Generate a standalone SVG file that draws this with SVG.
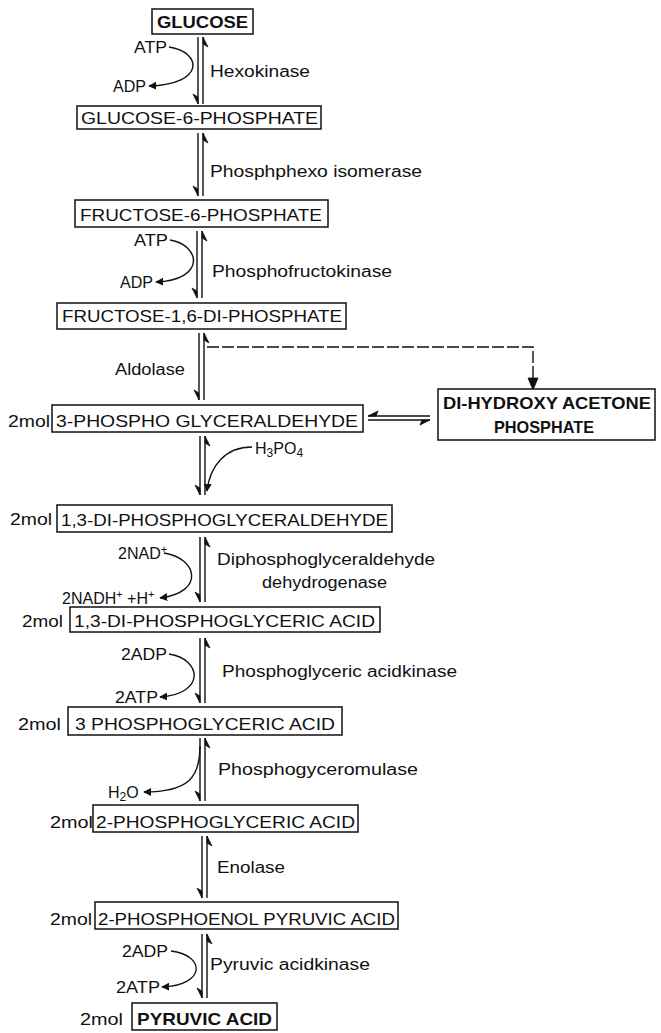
<svg xmlns="http://www.w3.org/2000/svg" width="661" height="1033" viewBox="0 0 661 1033">
<style>
text{font-family:"Liberation Sans",Arial,sans-serif;fill:#111}
.bx{fill:#fff;stroke:#111;stroke-width:1.5}
.bl{font-size:17px}
.b{font-weight:bold}
.en{font-size:16px}
.sm{font-size:16px}
.ln{fill:none;stroke:#111;stroke-width:1.4}
.hd{fill:#111;stroke:#111;stroke-width:0.8}
.cv{fill:none;stroke:#111;stroke-width:1.4;marker-end:url(#ah)}
.ds{fill:none;stroke:#111;stroke-width:1.4;stroke-dasharray:12 3}
</style>
<defs>
<marker id="ah" viewBox="0 0 10 10" refX="9" refY="5" markerWidth="8" markerHeight="8" markerUnits="userSpaceOnUse" orient="auto"><path d="M0,0 L10,5 L0,10 Z" fill="#111"/></marker>
</defs>
<rect width="661" height="1033" fill="#fff"/>

<g id="connectors">
<!-- glucose -> G6P -->
<path class="ln" d="M198,37 V104 M203,37 V104"/>
<path class="hd" d="M198,104 L193,94 L198,97 Z M203,37 L208,47 L203,44 Z"/>
<path class="cv" d="M169,47 C202,52 206,84 149,86"/>
<!-- G6P -> F6P -->
<path class="ln" d="M198,133 V196 M203,133 V196"/>
<path class="hd" d="M198,196 L193,186 L198,189 Z M203,133 L208,143 L203,140 Z"/>
<!-- F6P -> F16DP -->
<path class="ln" d="M197,231 V298 M202,231 V298"/>
<path class="hd" d="M197,298 L192,288 L197,291 Z M202,231 L207,241 L202,238 Z"/>
<path class="cv" d="M170,240 C201,245 206,280 156,282"/>
<!-- F16DP -> 3PGAld -->
<path class="ln" d="M199,333 V400 M204,333 V400"/>
<path class="hd" d="M199,400 L194,390 L199,393 Z M204,333 L209,343 L204,340 Z"/>
<path class="ds" d="M207,347 H533 V388"/>
<path class="hd" d="M533,390 L528,378 L538,378 Z"/>
<!-- 3PGAld <-> DHAP -->
<path class="ln" d="M368,416 H430 M368,420 H430"/>
<path class="hd" d="M368,416 L378,411 L376,416 Z M430,420 L420,425 L422,420 Z"/>
<!-- 3PGAld -> 1,3-DPGald -->
<path class="ln" d="M200,436 V495 M205,436 V495"/>
<path class="hd" d="M200,495 L195,485 L200,488 Z M205,436 L210,446 L205,443 Z"/>
<path class="cv" d="M252,447 C226,447 210,465 207,491"/>
<!-- 1,3-DPGald -> 1,3-DPGA -->
<path class="ln" d="M200,537 V602 M205,537 V602"/>
<path class="hd" d="M200,602 L195,592 L200,595 Z M205,537 L210,547 L205,544 Z"/>
<path class="cv" d="M164,553 C197,558 206,592 160,598"/>
<!-- 1,3-DPGA -> 3PGA -->
<path class="ln" d="M200,638 V703 M205,638 V703"/>
<path class="hd" d="M200,703 L195,693 L200,696 Z M205,638 L210,648 L205,645 Z"/>
<path class="cv" d="M169,654 C202,659 206,694 160,697"/>
<!-- 3PGA -> 2PGA -->
<path class="ln" d="M200,738 V801 M205,738 V801"/>
<path class="hd" d="M200,801 L195,791 L200,794 Z M205,738 L210,748 L205,745 Z"/>
<path class="cv" d="M200,746 C200,778 188,792 144,792"/>
<!-- 2PGA -> PEP -->
<path class="ln" d="M202,836 V898 M207,836 V898"/>
<path class="hd" d="M202,898 L197,888 L202,891 Z M207,836 L212,846 L207,843 Z"/>
<!-- PEP -> Pyruvic -->
<path class="ln" d="M202,934 V998 M207,934 V998"/>
<path class="hd" d="M202,998 L197,988 L202,991 Z M207,934 L212,944 L207,941 Z"/>
<path class="cv" d="M171,951 C205,955 207,985 162,987"/>
</g>

<g id="glucose"><rect class="bx" x="152" y="9" width="101" height="25"/><text class="bl b" x="157" y="28" textLength="91" lengthAdjust="spacingAndGlyphs">GLUCOSE</text></g>
<g id="g6p"><rect class="bx" x="77" y="106" width="244" height="23"/><text class="bl" x="81" y="124" textLength="237" lengthAdjust="spacingAndGlyphs">GLUCOSE-6-PHOSPHATE</text></g>
<g id="f6p"><rect class="bx" x="75" y="200" width="253" height="27"/><text class="bl" x="80" y="221" textLength="242" lengthAdjust="spacingAndGlyphs">FRUCTOSE-6-PHOSPHATE</text></g>
<g id="f16dp"><rect class="bx" x="57" y="303" width="289" height="26"/><text class="bl" x="62" y="322" textLength="280" lengthAdjust="spacingAndGlyphs">FRUCTOSE-1,6-DI-PHOSPHATE</text></g>
<g id="pgald"><text class="sm" x="8" y="427" textLength="42" lengthAdjust="spacingAndGlyphs">2mol</text><rect class="bx" x="52" y="405" width="311" height="27"/><text class="bl" x="56" y="427" textLength="302" lengthAdjust="spacingAndGlyphs">3-PHOSPHO GLYCERALDEHYDE</text></g>
<g id="dhap"><rect class="bx" x="438" y="389" width="217" height="51"/><text class="bl b" x="443" y="409" textLength="208" lengthAdjust="spacingAndGlyphs">DI-HYDROXY ACETONE</text><text class="bl b" x="494" y="433" textLength="100" lengthAdjust="spacingAndGlyphs">PHOSPHATE</text></g>
<g id="dpgald"><text class="sm" x="10" y="525" textLength="42" lengthAdjust="spacingAndGlyphs">2mol</text><rect class="bx" x="57" y="505" width="335" height="27"/><text class="bl" x="61" y="526" textLength="327" lengthAdjust="spacingAndGlyphs">1,3-DI-PHOSPHOGLYCERALDEHYDE</text></g>
<g id="dpga"><text class="sm" x="22" y="627" textLength="41" lengthAdjust="spacingAndGlyphs">2mol</text><rect class="bx" x="70" y="607" width="310" height="25"/><text class="bl" x="74" y="627" textLength="301" lengthAdjust="spacingAndGlyphs">1,3-DI-PHOSPHOGLYCERIC ACID</text></g>
<g id="pga3"><text class="sm" x="18" y="730" textLength="43" lengthAdjust="spacingAndGlyphs">2mol</text><rect class="bx" x="68" y="707" width="274" height="28"/><text class="bl" x="75" y="730" textLength="260" lengthAdjust="spacingAndGlyphs">3 PHOSPHOGLYCERIC ACID</text></g>
<g id="pga2"><text class="sm" x="50" y="828" textLength="43" lengthAdjust="spacingAndGlyphs">2mol</text><rect class="bx" x="93" y="805" width="265" height="27"/><text class="bl" x="96" y="828" textLength="259" lengthAdjust="spacingAndGlyphs">2-PHOSPHOGLYCERIC ACID</text></g>
<g id="pep"><text class="sm" x="50" y="925" textLength="42" lengthAdjust="spacingAndGlyphs">2mol</text><rect class="bx" x="95" y="902" width="303" height="27"/><text class="bl" x="98" y="925" textLength="297" lengthAdjust="spacingAndGlyphs">2-PHOSPHOENOL PYRUVIC ACID</text></g>
<g id="pyruvic"><text class="sm" x="80" y="1025" textLength="43" lengthAdjust="spacingAndGlyphs">2mol</text><rect class="bx" x="132" y="1003" width="145" height="27"/><text class="bl b" x="137" y="1025" textLength="135" lengthAdjust="spacingAndGlyphs">PYRUVIC ACID</text></g>

<g id="labels">
<text class="sm" x="134" y="53" textLength="33" lengthAdjust="spacingAndGlyphs">ATP</text>
<text class="sm" x="113" y="92" textLength="33" lengthAdjust="spacingAndGlyphs">ADP</text>
<text class="en" x="210" y="77" textLength="100" lengthAdjust="spacingAndGlyphs">Hexokinase</text>
<text class="en" x="210" y="177" textLength="212" lengthAdjust="spacingAndGlyphs">Phosphphexo isomerase</text>
<text class="sm" x="134" y="246" textLength="34" lengthAdjust="spacingAndGlyphs">ATP</text>
<text class="sm" x="120" y="288" textLength="33" lengthAdjust="spacingAndGlyphs">ADP</text>
<text class="en" x="212" y="277" textLength="180" lengthAdjust="spacingAndGlyphs">Phosphofructokinase</text>
<text class="en" x="115" y="375" textLength="70" lengthAdjust="spacingAndGlyphs">Aldolase</text>
<text class="sm" x="255" y="454">H<tspan font-size="12" dy="3">3</tspan><tspan dy="-3">PO</tspan><tspan font-size="12" dy="3">4</tspan></text>
<text class="sm" x="118" y="559">2NAD<tspan font-size="11" dy="-6">+</tspan></text>
<text class="en" x="217" y="565" textLength="218" lengthAdjust="spacingAndGlyphs">Diphosphoglyceraldehyde</text>
<text class="en" x="262" y="588" textLength="125" lengthAdjust="spacingAndGlyphs">dehydrogenase</text>
<text class="sm" x="62" y="604">2NADH<tspan font-size="11" dy="-6">+</tspan><tspan dy="6"> +H</tspan><tspan font-size="11" dy="-6">+</tspan></text>
<text class="sm" x="121" y="660" textLength="46" lengthAdjust="spacingAndGlyphs">2ADP</text>
<text class="sm" x="115" y="703" textLength="43" lengthAdjust="spacingAndGlyphs">2ATP</text>
<text class="en" x="222" y="677" textLength="235" lengthAdjust="spacingAndGlyphs">Phosphoglyceric acidkinase</text>
<text class="en" x="218" y="775" textLength="200" lengthAdjust="spacingAndGlyphs">Phosphogyceromulase</text>
<text class="sm" x="108" y="798">H<tspan font-size="12" dy="3">2</tspan><tspan dy="-3">O</tspan></text>
<text class="en" x="217" y="873" textLength="68" lengthAdjust="spacingAndGlyphs">Enolase</text>
<text class="sm" x="122" y="957" textLength="46" lengthAdjust="spacingAndGlyphs">2ADP</text>
<text class="sm" x="116" y="993" textLength="44" lengthAdjust="spacingAndGlyphs">2ATP</text>
<text class="en" x="210" y="970" textLength="160" lengthAdjust="spacingAndGlyphs">Pyruvic acidkinase</text>
</g>
</svg>
